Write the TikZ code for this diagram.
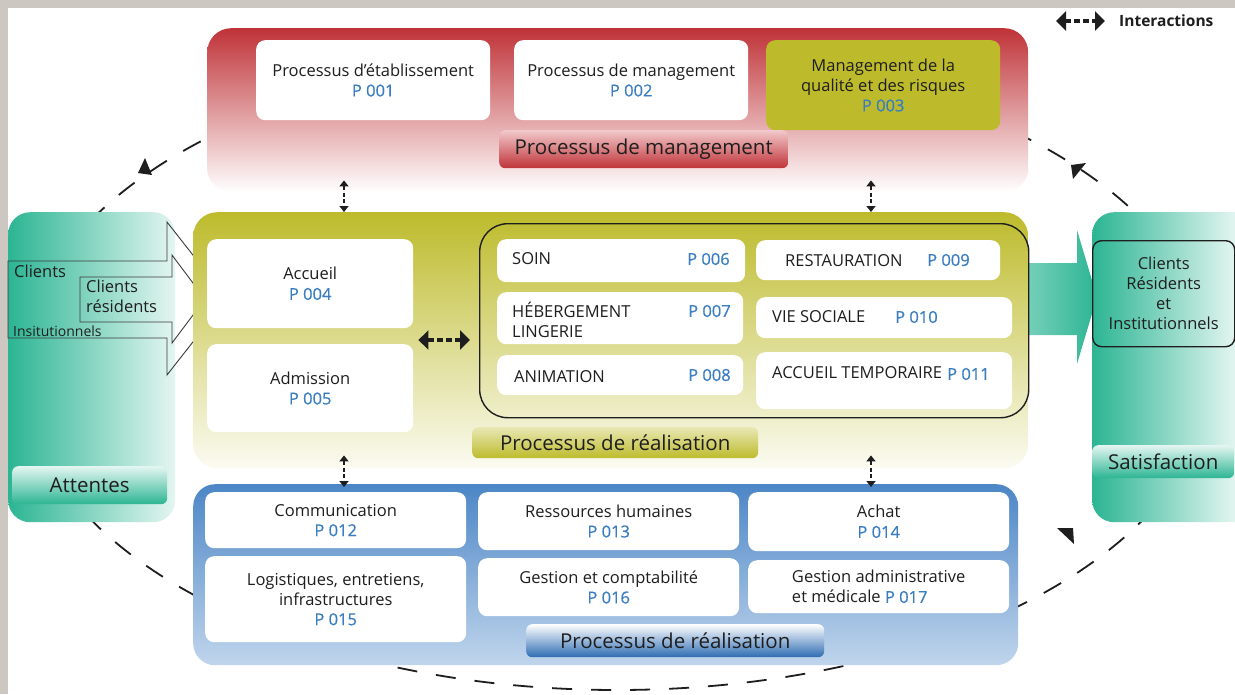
\documentclass[tikz,border=0pt]{standalone}
\usepackage{fontspec}
\setmainfont{Open Sans}
\newfontfamily\codefont[FakeBold=0.6]{Open Sans}
\usetikzlibrary{arrows.meta,calc}

\definecolor{frame}{HTML}{CDC7C1}
\definecolor{mgred}{HTML}{BF3338}
\definecolor{mgpink}{HTML}{D6878A}
\definecolor{mglight}{HTML}{F2C9CB}
\definecolor{olive}{HTML}{BDBB2B}
\definecolor{olivemid}{HTML}{D6D57F}
\definecolor{olivelow}{HTML}{FBFBF2}
\definecolor{olivelight}{HTML}{E9E8B4}
\definecolor{teal}{HTML}{2CB593}
\definecolor{teallight}{HTML}{E4F6F1}
\definecolor{sky}{HTML}{4C86C6}
\definecolor{skylow}{HTML}{C0D5EC}
\definecolor{skydeep}{HTML}{2E6CB3}
\definecolor{code}{HTML}{3A7EC1}
\definecolor{ink}{HTML}{1E1E1E}
\definecolor{outline}{HTML}{3A3A3A}

\newcommand\boxfont{\fontsize{16.5}{20}\selectfont}
\newcommand\labfont{\fontsize{20.5}{24}\selectfont}
\newcommand\pc[1]{{\codefont\textcolor{code}{#1}}}

\tikzset{
  wbox/.style={fill=white, rounded corners=9pt, anchor=north west, inner sep=0pt,
               align=center, text=ink, font=\boxfont},
  tag/.style={anchor=west, inner sep=0pt, text=ink, font=\boxfont, align=left},
  codetag/.style={anchor=west, inner sep=0pt, text=code, font=\boxfont\codefont},
  band/.style={anchor=north west, rounded corners=6pt, inner sep=0pt, text=ink, font=\labfont},
  panel/.style={anchor=north west, rounded corners=24pt, inner sep=0pt},
  vlink/.style={draw=ink, line width=2.6pt, dash pattern=on 4pt off 2.5pt,
                {Triangle[width=9pt,length=6pt]}-{Triangle[width=9pt,length=6pt]}},
  hlink/.style={draw=ink, line width=4pt, dash pattern=on 6pt off 3pt,
                {Triangle[width=19pt,length=10pt]}-{Triangle[width=19pt,length=10pt]}},
  cycleline/.style={draw=ink, line width=1.8pt, dash pattern=on 20pt off 19pt},
  barb/.style={fill=ink},
  hollow/.style={draw=outline, line width=0.9pt},
}

\begin{document}
\begin{tikzpicture}[x=1pt,y=-1pt]
\useasboundingbox (0,0) rectangle (1235,694);
% frame and page
\fill[frame] (0,0) rectangle (1235,694);
\fill[white] (8,8) rectangle (1235,694);

% continuous improvement cycle
\draw[cycleline] (617,370) ellipse [x radius=595, y radius=320];
\fill[barb] (145,158) -- (138,173) -- (152,175) -- cycle;
\fill[barb] (1071,165) -- (1086,163) -- (1073,179) -- cycle;
\fill[barb] (1057,528) -- (1073,528) -- (1074,544) -- cycle;

% legend
\coordinate (lgA) at (1056,21);
\coordinate (lgB) at (1105,21);
\draw[hlink] (lgA) -- (lgB);
\node[anchor=west, inner sep=0pt, text=ink, font=\fontsize{15.5}{18}\selectfont\bfseries] (lgtxt) at (1119,21) {Interactions};

% management processes
\node[panel, minimum width=821pt, minimum height=164pt, top color=mgred, middle color=mgpink, bottom color=white] (mgmt) at (207,28) {};
\node[wbox, minimum width=234pt, minimum height=80pt] (p001) at (256,40) {Processus d’établissement\\\pc{P 001}};
\node[wbox, minimum width=234pt, minimum height=80pt] (p002) at (514,40) {Processus de management\\\pc{P 002}};
\node[wbox, fill=olive, minimum width=234pt, minimum height=90pt] (p003) at (766,40) {Management de la\\qualité et des risques\\\pc{P 003}};
\node[band, minimum width=289pt, minimum height=38pt, top color=mglight, bottom color=mgred] (mgtag) at (499,130) {Processus de management};

% expectations panel (left)
\node[panel, rounded corners=22pt, minimum width=167pt, minimum height=310pt, left color=teal, right color=teallight] (expect) at (8,212) {};
\node[band, minimum width=155pt, minimum height=38pt, top color=teallight, bottom color=teal] (attentes) at (12,466) {Attentes};
\draw[hollow] (8,261) -- (167,261) -- (167,222) -- (227,298.5) -- (167,375) -- (167,338) -- (8,338) -- cycle;
\draw[hollow] (80,277) -- (172,277) -- (172,255) -- (205,299) -- (172,343) -- (172,322) -- (80,322) -- cycle;
\node[tag] (cl1) at (14,271) {Clients};
\node[tag, anchor=north west] (cl2) at (86,280) {Clients\\résidents};
\node[tag, font=\fontsize{14}{16}\selectfont] (cl3) at (13,331) {Insitutionnels};

% output arrow and satisfaction panel (right)
\shade[left color=teallight!40!teal, right color=teal] (1028,263) -- (1077,263) -- (1077,230) -- (1097,297) -- (1077,364) -- (1077,335) -- (1028,335) -- cycle;
\node[panel, rounded corners=22pt, minimum width=165pt, minimum height=310pt, left color=teal, right color=white] (satis) at (1092,212) {};
\node[wbox, fill=none, draw=ink, line width=1.4pt, minimum width=142pt, minimum height=106pt] (clients) at (1092,240) {Clients\\Résidents\\et\\Institutionnels};
\node[band, minimum width=142pt, minimum height=33pt, top color=teallight, bottom color=teal] (sattag) at (1092,445) {Satisfaction};

% realisation processes
\node[panel, minimum width=835pt, minimum height=256pt, top color=olive, middle color=olivemid, bottom color=olivelow] (real) at (193,212) {};
\node[wbox, minimum width=206pt, minimum height=89pt] (p004) at (207,239) {Accueil\\\pc{P 004}};
\node[wbox, minimum width=206pt, minimum height=88pt] (p005) at (207,344) {Admission\\\pc{P 005}};
\node[anchor=north west, draw=ink, line width=1.4pt, rounded corners=28pt, minimum width=549pt, minimum height=194pt, inner sep=0pt] (core) at (479,223) {};

\node[wbox, minimum width=248pt, minimum height=43pt] (p006) at (497,239) {};
\node[tag] at (512,259) {SOIN};
\node[codetag] at (687,259) {P 006};
\node[wbox, minimum width=246pt, minimum height=52pt] (p007) at (497,292) {};
\node[tag] at (512,320) {HÉBERGEMENT\\LINGERIE};
\node[codetag] at (688,311) {P 007};
\node[wbox, minimum width=246pt, minimum height=40pt] (p008) at (497,355) {};
\node[tag] at (514,377) {ANIMATION};
\node[codetag] at (688,375) {P 008};
\node[wbox, minimum width=244pt, minimum height=40pt] (p009) at (756,240) {};
\node[tag] at (785,261) {RESTAURATION};
\node[codetag] at (927,260) {P 009};
\node[wbox, minimum width=256pt, minimum height=41pt] (p010) at (756,297) {};
\node[tag] at (772,317) {VIE SOCIALE};
\node[codetag] at (895,317) {P 010};
\node[wbox, minimum width=256pt, minimum height=57pt] (p011) at (756,352) {};
\node[tag] at (772,373) {ACCUEIL TEMPORAIRE};
\node[codetag] at (947,374) {P 011};

\node[band, minimum width=286pt, minimum height=31pt, top color=olivelight, bottom color=olive] (realtag) at (472,427) {Processus de réalisation};

% support processes
\node[panel, rounded corners=22pt, minimum width=825pt, minimum height=181pt, top color=sky, bottom color=skylow] (supp) at (193,484) {};
\node[wbox, minimum width=261pt, minimum height=56pt] (p012) at (205,492) {Communication\\\pc{P 012}};
\node[wbox, minimum width=261pt, minimum height=86pt] (p015) at (205,556) {Logistiques, entretiens,\\infrastructures\\\pc{P 015}};
\node[wbox, minimum width=261pt, minimum height=58pt] (p013) at (478,492) {Ressources humaines\\\pc{P 013}};
\node[wbox, minimum width=261pt, minimum height=58pt] (p016) at (478,558) {Gestion et comptabilité\\\pc{P 016}};
\node[wbox, minimum width=261pt, minimum height=59pt] (p014) at (748,492) {Achat\\\pc{P 014}};
\node[wbox, minimum width=261pt, minimum height=53pt, align=left] (p017) at (748,560) {Gestion administrative\\et médicale \pc{P 017}};
\node[band, minimum width=298pt, minimum height=33pt, top color=white, bottom color=skydeep] (supptag) at (526,624) {Processus de réalisation};

% interactions between the groups
\coordinate (colL) at (344,0);
\coordinate (colR) at (871,0);
\coordinate (rowM) at (0,340);
\draw[vlink] ([yshift=12pt]mgmt.south -| colL) -- (real.north -| colL);
\draw[vlink] ([yshift=12pt]mgmt.south -| colR) -- (real.north -| colR);
\draw[vlink] ([yshift=13pt]real.south -| colL) -- ([yshift=-3pt]supp.north -| colL);
\draw[vlink] ([yshift=13pt]real.south -| colR) -- ([yshift=-3pt]supp.north -| colR);
\draw[hlink] ($(p004.east |- rowM)+(5,0)$) -- ($(core.west |- rowM)+(-9,0)$);
\end{tikzpicture}
\end{document}
